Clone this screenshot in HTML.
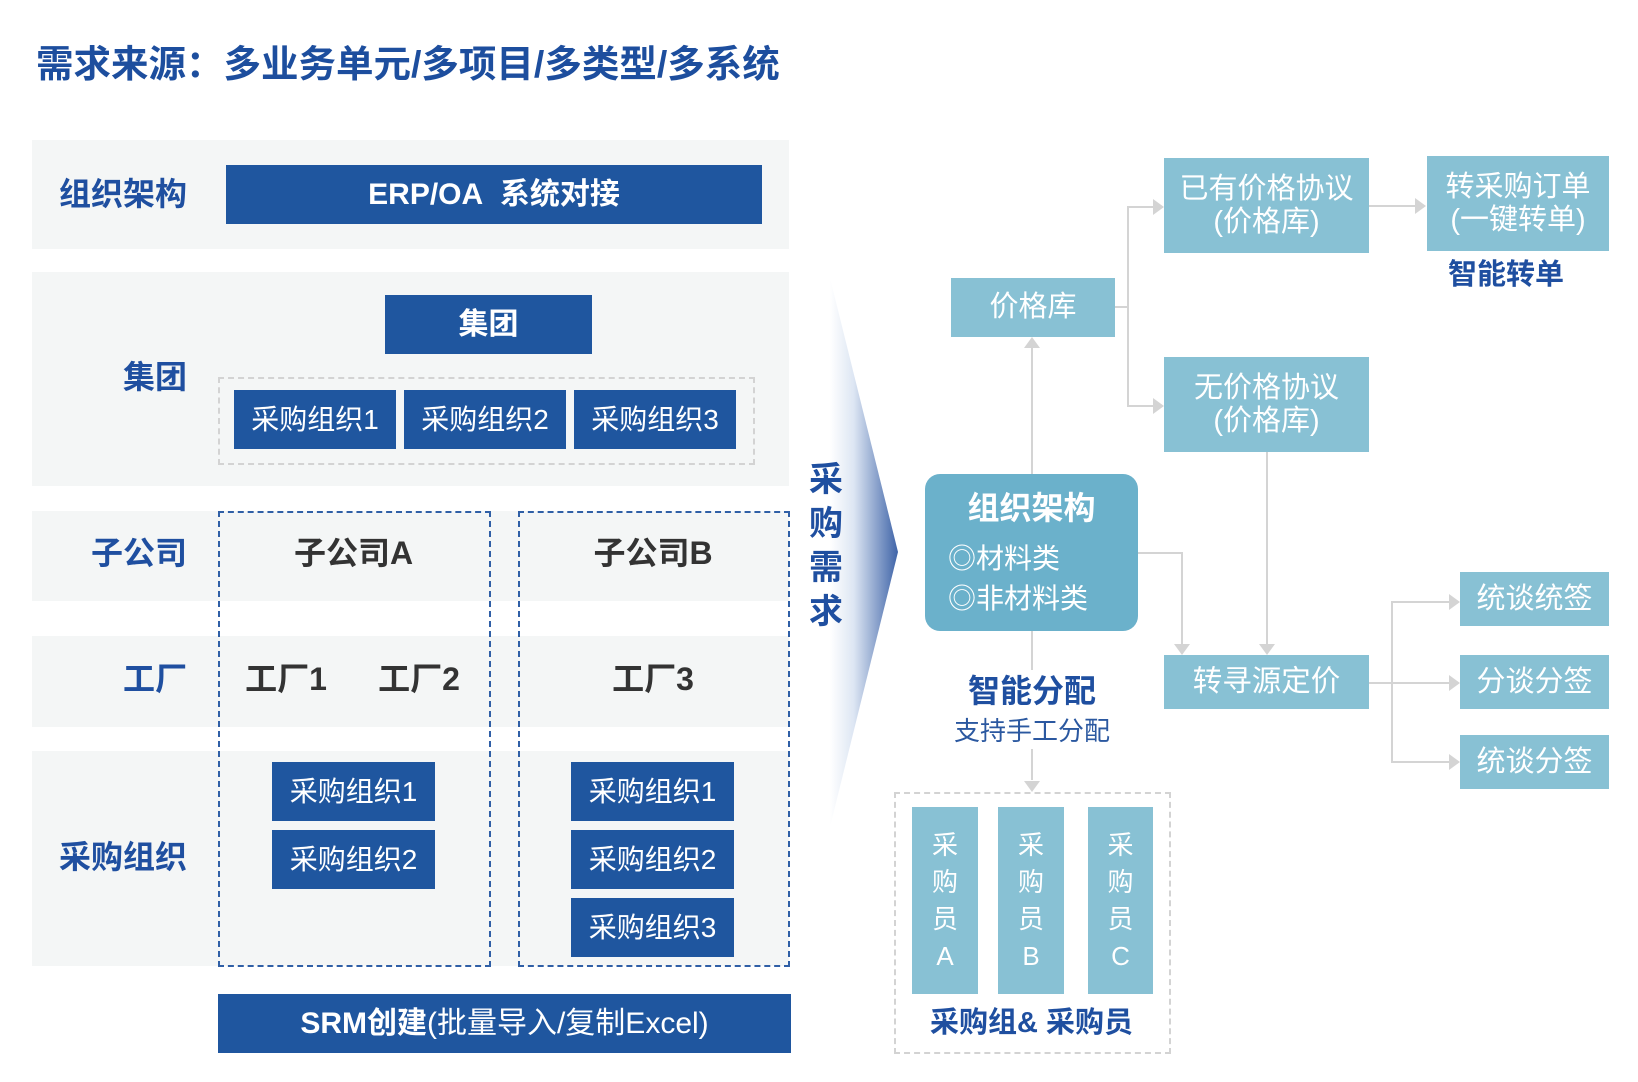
<!DOCTYPE html>
<html><head><meta charset="utf-8">
<style>
html,body{margin:0;padding:0;background:#fff;}
body{width:1638px;height:1082px;position:relative;overflow:hidden;font-family:"Liberation Sans","Noto Sans CJK SC",sans-serif;}
.a{position:absolute;}
.c{position:absolute;display:flex;align-items:center;justify-content:center;line-height:1;white-space:nowrap;}
.bg{position:absolute;background:#f4f6f6;}
.db{background:#1f569f;color:#fff;}
.lb{background:#88c1d4;color:#fff;}
.lab{position:absolute;display:flex;align-items:center;justify-content:flex-end;font-size:32px;font-weight:bold;color:#1f4fa0;line-height:1;white-space:nowrap;}
.dk{color:#333;font-size:32px;font-weight:bold;}
.org{font-size:28px;}
</style></head><body>

<div class="a" style="left:36px;top:42px;font-size:37.5px;font-weight:bold;color:#1d4e9e;line-height:44px;white-space:nowrap;">需求来源：多业务单元/多项目/多类型/多系统</div>

<!-- section backgrounds -->
<div class="bg" style="left:32px;top:140px;width:757px;height:109px;"></div>
<div class="bg" style="left:32px;top:272px;width:757px;height:214px;"></div>
<div class="bg" style="left:32px;top:511px;width:757px;height:90px;"></div>
<div class="bg" style="left:32px;top:636px;width:757px;height:91px;"></div>
<div class="bg" style="left:32px;top:751px;width:757px;height:215px;"></div>

<!-- labels -->
<div class="lab" style="left:40px;width:147px;top:174px;height:40px;">组织架构</div>
<div class="lab" style="left:40px;width:147px;top:357px;height:40px;">集团</div>
<div class="lab" style="left:40px;width:147px;top:533px;height:40px;">子公司</div>
<div class="lab" style="left:40px;width:147px;top:659px;height:40px;">工厂</div>
<div class="lab" style="left:40px;width:147px;top:837px;height:40px;">采购组织</div>

<!-- ERP -->
<div class="c db" style="left:226px;top:165px;width:536px;height:59px;font-size:30px;font-weight:bold;">ERP/OA&nbsp;&nbsp;系统对接</div>

<!-- group -->
<div class="c db" style="left:385px;top:295px;width:207px;height:59px;font-size:30px;font-weight:bold;">集团</div>
<div class="a" style="left:218px;top:377px;width:533px;height:84px;border:2px dashed #d3d3d3;"></div>
<div class="c db org" style="left:234px;top:390px;width:162px;height:59px;">采购组织1</div>
<div class="c db org" style="left:404px;top:390px;width:162px;height:59px;">采购组织2</div>
<div class="c db org" style="left:574px;top:390px;width:162px;height:59px;">采购组织3</div>

<!-- subsidiaries dashed -->
<div class="a" style="left:218px;top:511px;width:269px;height:452px;border:2px dashed #2f5fa6;"></div>
<div class="a" style="left:518px;top:511px;width:268px;height:452px;border:2px dashed #2f5fa6;"></div>

<div class="c dk" style="left:218px;top:533px;width:271px;height:40px;">子公司A</div>
<div class="c dk" style="left:518px;top:533px;width:270px;height:40px;">子公司B</div>
<div class="c dk" style="left:236px;top:659px;width:100px;height:40px;">工厂1</div>
<div class="c dk" style="left:369px;top:659px;width:100px;height:40px;">工厂2</div>
<div class="c dk" style="left:518px;top:659px;width:270px;height:40px;">工厂3</div>

<div class="c db org" style="left:272px;top:762px;width:163px;height:59px;">采购组织1</div>
<div class="c db org" style="left:272px;top:830px;width:163px;height:59px;">采购组织2</div>
<div class="c db org" style="left:571px;top:762px;width:163px;height:59px;">采购组织1</div>
<div class="c db org" style="left:571px;top:830px;width:163px;height:59px;">采购组织2</div>
<div class="c db org" style="left:571px;top:898px;width:163px;height:59px;">采购组织3</div>

<div class="c db" style="left:218px;top:994px;width:573px;height:59px;font-size:30px;"><b>SRM创建</b>(批量导入/复制Excel)</div>

<!-- wedge + connectors -->
<svg class="a" style="left:0;top:0;" width="1638" height="1082" viewBox="0 0 1638 1082">
<defs>
<linearGradient id="wg" x1="830" y1="0" x2="898" y2="0" gradientUnits="userSpaceOnUse">
<stop offset="0" stop-color="#ffffff"/>
<stop offset="0.35" stop-color="#dde6f3"/>
<stop offset="1" stop-color="#3f64a8"/>
</linearGradient>
</defs>
<polygon points="830,278 898,552 830,827" fill="url(#wg)"/>
<g stroke="#d4d4d4" stroke-width="2" fill="none">
<polyline points="1114,307 1128,307"/>
<polyline points="1153,207 1128,207 1128,406 1153,406"/>
<line x1="1369" y1="206" x2="1415" y2="206"/>
<line x1="1032" y1="474" x2="1032" y2="348"/>
<polyline points="1137,553 1182,553 1182,644"/>
<line x1="1267" y1="452" x2="1267" y2="644"/>
<polyline points="1369,683 1392,683"/>
<polyline points="1449,602 1392,602 1392,762 1449,762"/>
<line x1="1392" y1="683" x2="1449" y2="683"/>
<line x1="1032" y1="631" x2="1032" y2="670"/>
<line x1="1032" y1="749" x2="1032" y2="780"/>
</g>
<g fill="#d4d4d4">
<polygon points="1153,199 1164,207 1153,215"/>
<polygon points="1153,398 1164,406 1153,414"/>
<polygon points="1415,198 1426,206 1415,214"/>
<polygon points="1024,348 1032,337 1040,348"/>
<polygon points="1174,644 1182,655 1190,644"/>
<polygon points="1259,644 1267,655 1275,644"/>
<polygon points="1449,594 1460,602 1449,610"/>
<polygon points="1449,675 1460,683 1449,691"/>
<polygon points="1449,754 1460,762 1449,770"/>
<polygon points="1024,781 1032,792 1040,781"/>
</g>
</svg>

<!-- vertical 采购需求 -->
<div class="a" style="left:806px;top:458px;width:40px;font-size:34px;font-weight:bold;color:#1f4fa0;line-height:44px;text-align:center;">采<br>购<br>需<br>求</div>

<!-- right boxes -->
<div class="c lb" style="left:951px;top:278px;width:164px;height:59px;font-size:29px;">价格库</div>
<div class="c lb" style="left:1164px;top:158px;width:205px;height:95px;font-size:29px;line-height:33px;text-align:center;white-space:normal;">已有价格协议<br>(价格库)</div>
<div class="c lb" style="left:1164px;top:357px;width:205px;height:95px;font-size:29px;line-height:33px;text-align:center;white-space:normal;">无价格协议<br>(价格库)</div>
<div class="c lb" style="left:1427px;top:156px;width:182px;height:95px;font-size:29px;line-height:33px;text-align:center;white-space:normal;">转采购订单<br>(一键转单)</div>
<div class="c" style="left:1415px;top:257px;width:182px;height:36px;font-size:29px;font-weight:bold;color:#1f4fa0;">智能转单</div>

<div class="a" style="left:925px;top:474px;width:213px;height:157px;background:#6bb1cb;border-radius:15px;"></div>
<div class="c" style="left:925px;top:488px;width:213px;height:40px;font-size:32px;font-weight:bold;color:#fff;">组织架构</div>
<div class="a" style="left:948px;top:543px;font-size:28px;color:#fff;line-height:32px;white-space:nowrap;">◎材料类</div>
<div class="a" style="left:948px;top:583px;font-size:28px;color:#fff;line-height:32px;white-space:nowrap;">◎非材料类</div>

<div class="c" style="left:932px;top:672px;width:200px;height:38px;font-size:32px;font-weight:bold;color:#1f4fa0;background:#fff;">智能分配</div>
<div class="c" style="left:932px;top:716px;width:200px;height:30px;font-size:26px;color:#2b58a0;">支持手工分配</div>

<div class="c lb" style="left:1164px;top:655px;width:205px;height:54px;font-size:29.5px;">转寻源定价</div>

<div class="c lb" style="left:1460px;top:572px;width:149px;height:54px;font-size:29px;">统谈统签</div>
<div class="c lb" style="left:1460px;top:655px;width:149px;height:54px;font-size:29px;">分谈分签</div>
<div class="c lb" style="left:1460px;top:735px;width:149px;height:54px;font-size:29px;">统谈分签</div>

<div class="a" style="left:894px;top:792px;width:273px;height:258px;border:2px dashed #d3d3d3;"></div>
<div class="c lb" style="left:912px;top:807px;width:66px;height:187px;font-size:26px;line-height:37px;text-align:center;white-space:normal;">采<br>购<br>员<br>A</div>
<div class="c lb" style="left:998px;top:807px;width:66px;height:187px;font-size:26px;line-height:37px;text-align:center;white-space:normal;">采<br>购<br>员<br>B</div>
<div class="c lb" style="left:1088px;top:807px;width:65px;height:187px;font-size:26px;line-height:37px;text-align:center;white-space:normal;">采<br>购<br>员<br>C</div>
<div class="c" style="left:896px;top:1005px;width:271px;height:36px;font-size:29px;font-weight:bold;color:#1f4fa0;">采购组&amp;&nbsp;采购员</div>

</body></html>
